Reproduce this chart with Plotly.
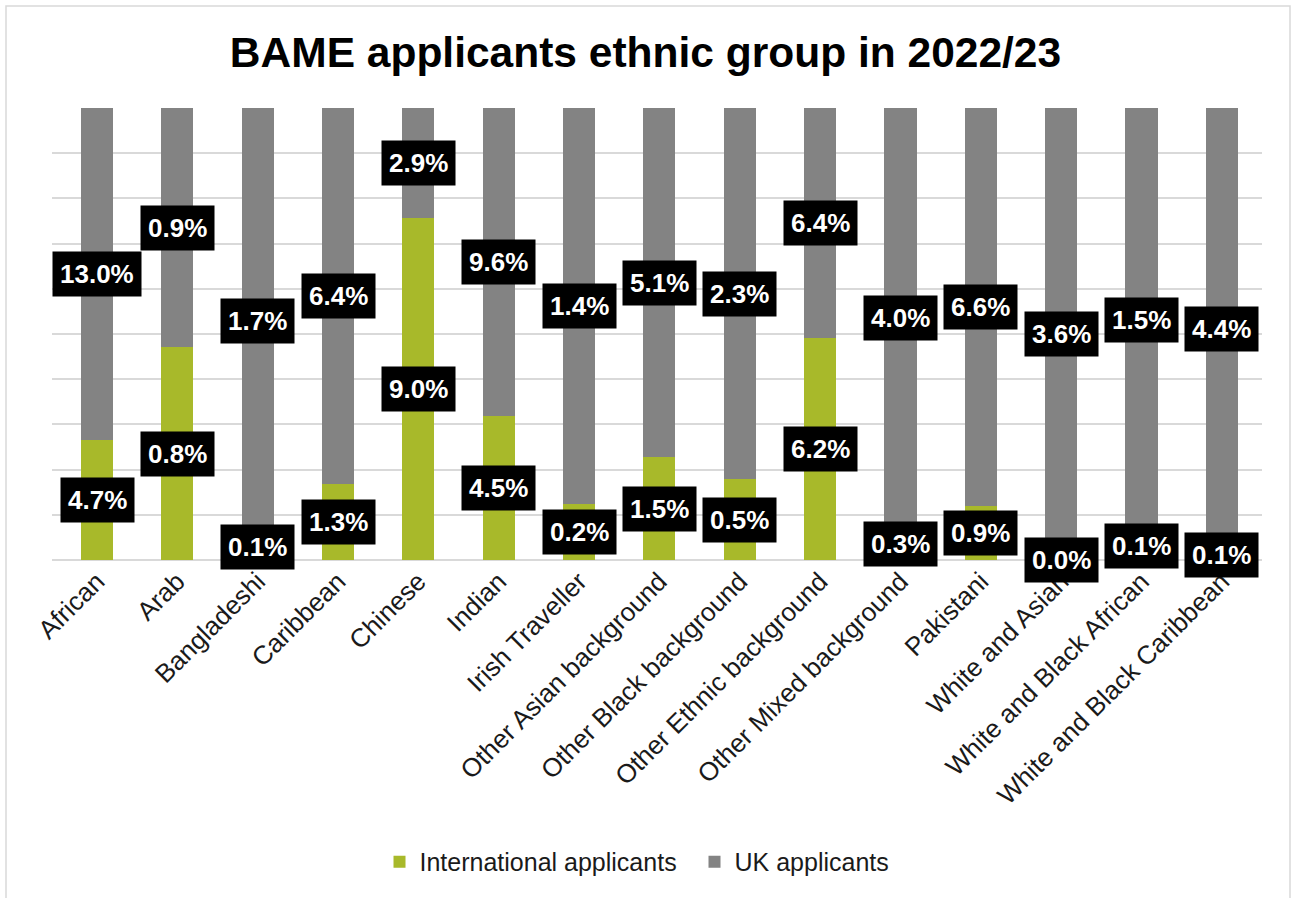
import plotly.graph_objects as go

# Share of each applicant pool (%) by ethnic group, 2022/23
categories = [
    "African", "Arab", "Bangladeshi", "Caribbean", "Chinese", "Indian",
    "Irish Traveller", "Other Asian background", "Other Black background",
    "Other Ethnic background", "Other Mixed background", "Pakistani",
    "White and Asian", "White and Black African", "White and Black Caribbean",
]
international = [4.7, 0.8, 0.1, 1.3, 9.0, 4.5, 0.2, 1.5, 0.5, 6.2, 0.3, 0.9, 0.0, 0.1, 0.1]
uk = [13.0, 0.9, 1.7, 6.4, 2.9, 9.6, 1.4, 5.1, 2.3, 6.4, 4.0, 6.6, 3.6, 1.5, 4.4]

GREEN = "#A8B92A"
GREY = "#838383"
FONT = "Arial, 'Liberation Sans', sans-serif"

fig = go.Figure()
fig.add_trace(go.Bar(x=categories, y=international, name="International applicants",
                     marker=dict(color=GREEN, line=dict(width=0))))
fig.add_trace(go.Bar(x=categories, y=uk, name="UK applicants",
                     marker=dict(color=GREY, line=dict(width=0))))

# Value labels centred on each stacked segment (segments are normalised to 100%)
annotations = []
for cat, a, b in zip(categories, international, uk):
    total = a + b
    p_int = a / total * 100
    p_uk = b / total * 100
    for val, mid in ((a, p_int / 2), (b, p_int + p_uk / 2)):
        annotations.append(dict(
            x=cat, y=mid, xref="x", yref="y", text=f"{val:.1f}%", showarrow=False,
            font=dict(family=FONT, size=26, color="white", weight="bold"),
            bgcolor="black", borderpad=7, xanchor="center", yanchor="middle",
        ))

fig.update_layout(
    width=1291, height=898,
    barmode="stack", barnorm="percent", bargap=0.6,
    paper_bgcolor="white", plot_bgcolor="white",
    margin=dict(l=52, r=29, t=108, b=338),
    font=dict(family=FONT, color="#1a1a1a"),
    title=dict(text="<b>BAME applicants ethnic group in 2022/23</b>",
               x=0.5, xref="container", xanchor="center",
               y=1 - 52 / 898, yref="container", yanchor="middle",
               font=dict(family=FONT, size=42.5, color="black")),
    showlegend=True,
    legend=dict(orientation="h", x=0.531, xanchor="center", y=-0.668, yanchor="middle",
                font=dict(family=FONT, size=25, color="#1a1a1a"),
                traceorder="normal", itemsizing="constant",
                entrywidth=270, entrywidthmode="pixels"),
    annotations=annotations,
    shapes=[dict(type="rect", xref="paper", yref="paper",
                 x0=(6 - 52) / 1210, x1=(1290 - 52) / 1210,
                 y0=(560 - 910) / 452, y1=(560 - 6) / 452,
                 line=dict(color="#D9D9D9", width=1.5), fillcolor="rgba(0,0,0,0)",
                 layer="below")],
)
fig.update_xaxes(tickangle=-45, tickfont=dict(family=FONT, size=26, color="#1a1a1a"),
                 showline=False, showgrid=False, ticks="")
fig.update_yaxes(range=[0, 100], dtick=10, showticklabels=False, showgrid=True,
                 gridcolor="#D9D9D9", gridwidth=1.5, zeroline=True,
                 zerolinecolor="#D9D9D9", zerolinewidth=1.5)

fig.write_html("out.html")
